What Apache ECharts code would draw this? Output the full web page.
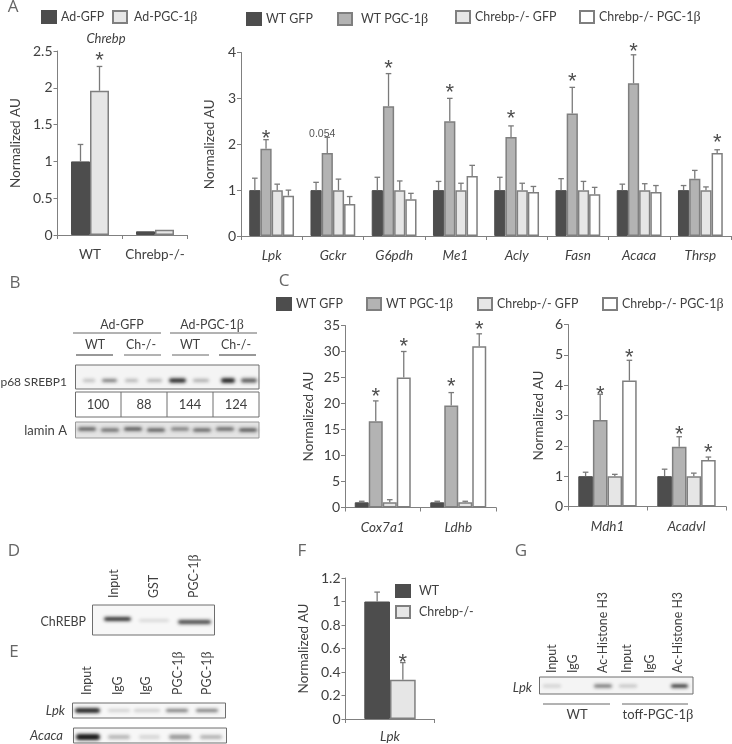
<!DOCTYPE html>
<html><head><meta charset="utf-8">
<style>html,body{margin:0;padding:0;background:#fff}#c{width:732px;height:744px}</style>
<script src="https://cdn.jsdelivr.net/npm/echarts@6/dist/echarts.min.js"></script>
</head><body><div id="c"></div>
<script>
// ---------- data ----------
const chrebpCats = ['WT', 'Chrebp-/-'];
const adGfp = [1, 0.05];
const adPgc = [1.96, 0.07];
const adGfpTop = [1.23, 0.05];
const adPgcTop = [2.29, 0.07];
const adStars = [[0, 1, 2.43]];

const liverGenes = ['Lpk', 'Gckr', 'G6pdh', 'Me1', 'Acly', 'Fasn', 'Acaca', 'Thrsp'];
const liverWtGfp = [1, 1, 1, 1, 1, 1, 1, 1];
const liverWtPgc = [1.9, 1.81, 2.83, 2.5, 2.16, 2.67, 3.33, 1.25];
const liverKoGfp = [1, 1, 1, 1, 1, 1, 1, 1];
const liverKoPgc = [0.88, 0.7, 0.8, 1.31, 0.96, 0.91, 0.96, 1.81];
const liverWtGfpTop = [1.26, 1.17, 1.28, 1.19, 1.28, 1.25, 1.13, 1.1];
const liverWtPgcTop = [2.1, 2.15, 3.54, 3.0, 2.4, 3.24, 3.95, 1.43];
const liverKoGfpTop = [1.13, 1.24, 1.2, 1.15, 1.15, 1.19, 1.14, 1.07];
const liverKoPgcTop = [1.0, 0.86, 0.93, 1.54, 1.08, 1.06, 1.1, 1.88];
const liverStars = [[0, 1, 2.22], [2, 1, 3.74], [3, 1, 3.22], [4, 1, 2.64], [5, 1, 3.46], [6, 1, 4.1], [7, 3, 2.13]];
const liverNotes = [[1, 0.55, 2.22, '0.054']];

const mitoGenes = ['Cox7a1', 'Ldhb'];
const mitoWtGfp = [1, 1];
const mitoWtPgc = [16.6, 19.6];
const mitoKoGfp = [1, 1];
const mitoKoPgc = [25, 31];
const mitoWtGfpTop = [1.2, 1.2];
const mitoWtPgcTop = [20.5, 22.1];
const mitoKoGfpTop = [1.5, 1.2];
const mitoKoPgcTop = [30, 33.4];
const mitoStars = [[0, 1, 22.1], [0, 3, 31.7], [1, 1, 24], [1, 3, 35]];

const metabGenes = ['Mdh1', 'Acadvl'];
const metabWtGfp = [1, 1];
const metabWtPgc = [2.85, 1.97];
const metabKoGfp = [1, 1];
const metabKoPgc = [4.15, 1.53];
const metabWtGfpTop = [1.13, 1.23];
const metabWtPgcTop = [3.7, 2.3];
const metabKoGfpTop = [1.06, 1.1];
const metabKoPgcTop = [4.82, 1.63];
const metabStars = [[0, 1, 3.82], [0, 3, 5.03], [1, 1, 2.52], [1, 3, 1.91]];

const lpkCats = ['Lpk'];
const lpkWt = [1];
const lpkKo = [0.335];
const lpkWtTop = [1.08];
const lpkKoTop = [0.48];
const lpkStars = [[0, 1, 0.517]];

const densitometry = ['100', '88', '144', '124'];

// ---------- styling ----------
const FONT = 'Lato';
const INK = '#404040';
const AXIS = '#808080';
const S = {
  dark:  {color: '#4d4d4d', borderColor: '#4d4d4d', borderWidth: 1, borderJoin: 'miter', borderRadius: 0},
  mid:   {color: '#b3b3b3', borderColor: '#7f7f7f', borderWidth: 1.5, borderJoin: 'miter', borderRadius: 0},
  light: {color: '#e6e6e6', borderColor: '#7f7f7f', borderWidth: 1.5, borderJoin: 'miter', borderRadius: 0},
  white: {color: '#ffffff', borderColor: '#7f7f7f', borderWidth: 1.5, borderJoin: 'miter', borderRadius: 0}
};

const grids = [], xAxes = [], yAxes = [], series = [], legends = [], graphics = [];

function panel(o) {
  const g = grids.length;
  grids.push({left: o.left, top: o.top, width: o.width, height: o.height, containLabel: false});
  xAxes.push({
    type: 'category', gridIndex: g, data: o.cats,
    axisLine: {lineStyle: {color: AXIS, width: 1}},
    axisTick: {show: true, length: 4, alignWithLabel: false, lineStyle: {color: AXIS}},
    axisLabel: {interval: 0, margin: o.xMargin || 13, color: INK, fontFamily: FONT, fontSize: 13.5,
      fontStyle: o.italic ? 'italic' : 'normal'}
  });
  yAxes.push({
    type: 'value', gridIndex: g, min: 0, max: o.max, interval: o.interval,
    name: 'Normalized AU', nameLocation: 'middle', nameGap: o.nameGap, nameRotate: 90,
    nameTextStyle: {color: INK, fontFamily: FONT, fontSize: 13.5},
    splitLine: {show: false},
    axisLine: {show: true, lineStyle: {color: AXIS, width: 1}},
    axisTick: {show: true, length: 4, lineStyle: {color: AXIS}},
    axisLabel: {color: INK, fontFamily: FONT, fontSize: 14, margin: 5}
  });
  const n = o.bars.length, bw = o.barWidth, rows = [];
  o.bars.forEach((b, si) => {
    series.push({type: 'bar', name: b.name, xAxisIndex: g, yAxisIndex: g, data: b.values,
      barWidth: bw, barGap: 0, itemStyle: b.style, animation: false, z: 2});
    b.values.forEach((v, ci) => rows.push([ci, si, v, b.tops[ci]]));
  });
  series.push({
    type: 'custom', xAxisIndex: g, yAxisIndex: g, data: rows, animation: false, z: 3, silent: true,
    encode: {x: 0, y: [2, 3]},
    renderItem(p, api) {
      const x = api.coord([api.value(0), 0])[0] + (api.value(1) - (n - 1) / 2) * bw;
      const y0 = api.coord([0, api.value(2)])[1], y1 = api.coord([0, api.value(3)])[1];
      if (Math.abs(y1 - y0) < 1) return {type: 'group', children: []};
      const st = {stroke: '#7a7a7a', lineWidth: 1.3, fill: null};
      return {type: 'group', children: [
        {type: 'line', shape: {x1: x, y1: y0, x2: x, y2: y1}, style: st},
        {type: 'line', shape: {x1: x - 2.8, y1: y1, x2: x + 2.8, y2: y1}, style: st}
      ]};
    }
  });
  const marks = (o.stars || []).map(s => [s[0], s[1], s[2], '*']).concat(o.notes || []);
  series.push({
    type: 'custom', xAxisIndex: g, yAxisIndex: g, data: marks, animation: false, z: 4, silent: true,
    encode: {x: 0, y: 2},
    renderItem(p, api) {
      const i = p.dataIndex, m = marks[i];
      const x = api.coord([m[0], 0])[0] + (m[1] - (n - 1) / 2) * bw;
      const y = api.coord([0, m[2]])[1];
      const star = m[3] === '*';
      return {type: 'text', x: x, y: star ? y + 4.5 : y,
        style: {text: m[3], fill: star ? '#4d4d4d' : '#555', textAlign: 'center', textVerticalAlign: 'middle',
          font: star ? '22px "Liberation Sans"' : '10.5px "Liberation Sans"'}};
    }
  });
}

panel({left: 57.5, top: 51, width: 130, height: 184, cats: chrebpCats, max: 2.5, interval: 0.5, nameGap: 35, barWidth: 19, xMargin: 13,
  bars: [{name: 'Ad-GFP', values: adGfp, tops: adGfpTop, style: S.dark},
         {name: 'Ad-PGC-1β', values: adPgc, tops: adPgcTop, style: S.light}],
  stars: adStars});
panel({left: 241, top: 52.5, width: 490, height: 183.5, cats: liverGenes, italic: true, max: 4, interval: 1, nameGap: 20, barWidth: 11.2,
  bars: [{name: 'WT GFP', values: liverWtGfp, tops: liverWtGfpTop, style: S.dark},
         {name: 'WT PGC-1β', values: liverWtPgc, tops: liverWtPgcTop, style: S.mid},
         {name: 'Chrebp-/- GFP', values: liverKoGfp, tops: liverKoGfpTop, style: S.light},
         {name: 'Chrebp-/- PGC-1β', values: liverKoPgc, tops: liverKoPgcTop, style: S.white}],
  stars: liverStars, notes: liverNotes});
panel({left: 345, top: 325.5, width: 151, height: 182, cats: mitoGenes, italic: true, max: 35, interval: 5, nameGap: 29, barWidth: 14,
  bars: [{name: 'WT GFP', values: mitoWtGfp, tops: mitoWtGfpTop, style: S.dark},
         {name: 'WT PGC-1β', values: mitoWtPgc, tops: mitoWtPgcTop, style: S.mid},
         {name: 'Chrebp-/- GFP', values: mitoKoGfp, tops: mitoKoGfpTop, style: S.light},
         {name: 'Chrebp-/- PGC-1β', values: mitoKoPgc, tops: mitoKoPgcTop, style: S.white}],
  stars: mitoStars});
panel({left: 568, top: 324.5, width: 158, height: 182, cats: metabGenes, italic: true, max: 6, interval: 1, nameGap: 22, barWidth: 14.6,
  bars: [{name: 'WT GFP', values: metabWtGfp, tops: metabWtGfpTop, style: S.dark},
         {name: 'WT PGC-1β', values: metabWtPgc, tops: metabWtPgcTop, style: S.mid},
         {name: 'Chrebp-/- GFP', values: metabKoGfp, tops: metabKoGfpTop, style: S.light},
         {name: 'Chrebp-/- PGC-1β', values: metabKoPgc, tops: metabKoPgcTop, style: S.white}],
  stars: metabStars});
panel({left: 345.5, top: 578, width: 89, height: 141, cats: lpkCats, italic: true, max: 1.2, interval: 0.2, nameGap: 35, barWidth: 25.7, xMargin: 11,
  bars: [{name: 'WT', values: lpkWt, tops: lpkWtTop, style: S.dark},
         {name: 'Chrebp-/-', values: lpkKo, tops: lpkKoTop, style: S.light}],
  stars: lpkStars});

// ---------- legends: one component per entry, placed like the figure ----------
const richText = {
  a: {fontFamily: FONT, fontSize: 12.4, color: INK},
  b: {fontFamily: 'Liberation Serif', fontSize: 14, color: INK}
};
function leg(name, left, top, textGap) {
  legends.push({
    data: [{name, icon: 'rect'}], left, top, padding: 0, itemWidth: 14, itemHeight: 12, itemGap: 0, selectedMode: false,
    formatter: n => n.includes('β') ? '{a|' + n.replace('β', '') + '}{b|β}' : '{a|' + n + '}',
    textStyle: {rich: richText, padding: [0, 0, 0, textGap || 0]}
  });
}
leg('Ad-GFP', 41, 10, 0); leg('Ad-PGC-1β', 112, 10, 2);
leg('WT GFP', 246, 12, 0); leg('WT PGC-1β', 337, 12, 4);
leg('Chrebp-/- GFP', 455, 10, 0); leg('Chrebp-/- PGC-1β', 579, 10, 0);
leg('WT GFP', 276, 297, 0); leg('WT PGC-1β', 366, 297, 0);
leg('Chrebp-/- GFP', 477, 297, 0); leg('Chrebp-/- PGC-1β', 602, 297, 0);
leg('WT', 395, 584, 4); leg('Chrebp-/-', 395, 605, 4);

// ---------- annotation and blot artwork ----------
function T(x, y, text, o) {
  o = o || {};
  const size = o.size || 12.4, it = o.italic ? 'italic ' : '';
  const hasBeta = text.includes('β');
  graphics.push({
    type: 'text', x, y, rotation: o.rot ? Math.PI / 2 : 0, z: 20,
    style: {
      text: hasBeta ? '{a|' + text.replace('β', '') + '}{b|β}' : text,
      rich: hasBeta ? {a: {font: size + 'px ' + FONT, fill: INK}, b: {font: (size + 1.5) + 'px "Liberation Serif"', fill: INK}} : undefined,
      font: it + size + 'px ' + (o.family || FONT), fill: o.fill || INK,
      textAlign: o.align || 'center', textVerticalAlign: 'middle'
    }
  });
}
function box(x, y, w, h, fill, stroke) {
  graphics.push({type: 'rect', z: 10, shape: {x, y, width: w, height: h},
    style: {fill: fill || '#f7f7f7', stroke: stroke || '#6e6e6e', lineWidth: 1}});
}
function line(x1, x2, y, c) {
  graphics.push({type: 'line', z: 10, shape: {x1, y1: y, x2, y2: y}, style: {stroke: c || '#666', lineWidth: 1}});
}
// a smeared blot band: only the blurred shadow of an off-canvas rect reaches the page
function band(x1, x2, yc, h, a) {
  const shift = 2000;
  graphics.push({type: 'rect', z: 12, shape: {x: x1 - shift, y: yc - h / 2, width: x2 - x1, height: h, r: h / 2},
    style: {fill: '#000', shadowColor: 'rgba(20,20,20,' + a + ')', shadowBlur: 3.5, shadowOffsetX: shift}});
}

// panel letters
[['A', 13, 7], ['B', 15, 283], ['C', 284, 281], ['D', 14, 551], ['E', 14, 652], ['F', 302, 551], ['G', 521, 551]]
  .forEach(l => T(l[1], l[2], l[0], {size: 17, fill: '#666', family: '"Open Sans"'}));

T(106, 39, 'Chrebp', {italic: true, size: 13});

// panel B
T(122, 325, 'Ad-GFP'); T(212, 325, 'Ad-PGC-1β');
line(73, 161, 333); line(170, 257, 333);
[[95, 'WT'], [141, 'Ch-/-'], [190, 'WT'], [236, 'Ch-/-']].forEach(h => T(h[0], 345, h[1]));
line(76, 113, 355, '#333'); line(124, 161, 355); line(172, 209, 355); line(219, 256, 355, '#333');
box(75.5, 365, 183.5, 24, '#f4f4f4');
[[83, 95, 2.5, .3], [102, 117, 3, .6], [125, 138, 3, .3], [147, 162, 3, .32], [169, 186, 4, 1], [193, 209, 3, .35], [221, 235, 4.5, 1], [241, 257, 4, .75]]
  .forEach(b => band(b[0], b[1], 380.5, b[2], b[3]));
box(75.5, 392, 183.5, 25, '#ffffff');
[121, 167, 213].forEach(x => graphics.push({type: 'line', z: 11, shape: {x1: x, y1: 392, x2: x, y2: 417}, style: {stroke: '#6e6e6e', lineWidth: 1}}));
densitometry.forEach((t, i) => T([98, 144, 190, 236][i], 405, t, {size: 13}));
box(75.5, 422, 183.5, 16, '#e4e4e4', '#999');
[77, 100, 123, 146, 170, 192, 215, 238].forEach((x, i) => band(x + 1, x + 19, 429 + (i % 2), 3, [.8, .7, .85, .8, .6, .75, .75, .85][i]));
T(67, 382, 'p68 SREBP1', {align: 'right', size: 12}); T(67, 431, 'lamin A', {align: 'right', size: 13});

// panel D
box(92.5, 605, 122, 30);
band(104, 131, 619, 3.5, 1); band(139, 169, 620.5, 2, .2); band(178, 211, 622, 4, .8);
T(86, 622, 'ChREBP', {align: 'right'});
[[114, 'Input'], [154, 'GST'], [194, 'PGC-1β']].forEach(l => T(l[0], 598, l[1], {rot: true, align: 'left'}));

// panel E
box(72.5, 703, 153, 15); box(73.5, 728, 153, 15);
[[75, 100, 4.5, 1], [108, 130, 2, .25], [134, 160, 2, .28], [166, 188, 2.5, .7], [196, 218, 2.5, .7]]
  .forEach(b => band(b[0], b[1], 710.5, b[2], b[3]));
[[76, 100, 6, 1], [108, 130, 4, .3], [139, 160, 4, .15], [169, 191, 4.5, .45], [200, 222, 3.5, .35]]
  .forEach(b => band(b[0], b[1], 737, b[2], b[3]));
T(65, 711, 'Lpk', {italic: true, align: 'right', size: 13}); T(63, 736, 'Acaca', {italic: true, align: 'right', size: 13});
[[87, 'Input'], [118, 'IgG'], [146, 'IgG'], [178, 'PGC-1β'], [207, 'PGC-1β']].forEach(l => T(l[0], 695, l[1], {rot: true, align: 'left'}));

// panel G
box(539.5, 677, 153.5, 17, '#f4f4f4');
[[543, 561, 2.5, .2], [594, 612, 3, .65], [619, 637, 2.5, .28], [671, 688, 3, 1]].forEach(b => band(b[0], b[1], 686, b[2], b[3]));
T(532, 688, 'Lpk', {italic: true, align: 'right', size: 13});
[[552, 'Input'], [573, 'IgG'], [603, 'Ac-Histone H3'], [627, 'Input'], [650, 'IgG'], [678, 'Ac-Histone H3']]
  .forEach(l => T(l[0], 673, l[1], {rot: true, align: 'left'}));
line(543, 610, 704); line(622, 688, 704);
T(577, 715, 'WT', {size: 13}); T(658, 715, 'toff-PGC-1β', {size: 13});

const chart = echarts.init(document.getElementById('c'), null, {renderer: 'canvas'});
chart.setOption({
  animation: false, backgroundColor: '#fff', textStyle: {fontFamily: FONT},
  grid: grids, xAxis: xAxes, yAxis: yAxes, series, legend: legends, graphic: {elements: graphics}
});
</script></body></html>
